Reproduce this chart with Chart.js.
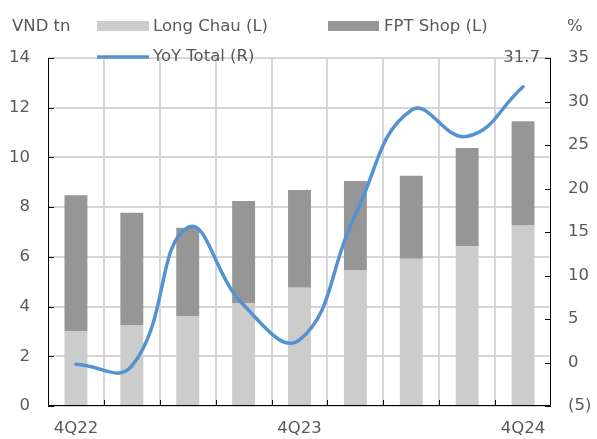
<!DOCTYPE html>
<html>
<head>
<meta charset="utf-8">
<script src="https://cdn.jsdelivr.net/npm/chart.js@4.4.1/dist/chart.umd.min.js"></script>
<style>
  html, body { margin: 0; padding: 0; background: #fff; }
  #wrap { width: 597px; height: 439px; position: relative; }
</style>
</head>
<body>
<div id="wrap"><canvas id="chart" width="597" height="439"></canvas></div>
<script>
const quarters = ['4Q22', '1Q23', '2Q23', '3Q23', '4Q23', '1Q24', '2Q24', '3Q24', '4Q24']
const shownQuarters = ['4Q22', '4Q23', '4Q24']
const longChau = [3.0, 3.26, 3.6, 4.14, 4.76, 5.47, 5.92, 6.43, 7.26]
const fptShop = [5.48, 4.51, 3.57, 4.11, 3.93, 3.58, 3.34, 3.95, 4.2]
const yoyTotal = [-0.2, -0.4, 15.5, 6.6, 2.6, 17.0, 29.0, 26.0, 31.7]
const lastLabel = '31.7'

const FONT = 'DejaVu Sans'
const TEXT = '#595959'
const LIGHT = '#cccccc'
const DARK = '#969696'
const BLUE = '#5592d2'
const GRID = '#d6d6d6'

Chart.defaults.font.family = FONT
Chart.defaults.font.size = 16.5
Chart.defaults.color = TEXT

// gridlines under the bars
const gridUnder = {
  id: 'gridUnder',
  beforeDatasetsDraw(chart) {
    const ctx = chart.ctx
    const { left, right, top, bottom } = chart.chartArea
    const y = chart.scales.y
    const step = (right - left) / quarters.length
    ctx.save()
    ctx.strokeStyle = GRID
    ctx.lineWidth = 2
    ctx.beginPath()
    y.ticks.forEach((t) => {
      const py = Math.round(y.getPixelForValue(t.value))
      ctx.moveTo(left, py)
      ctx.lineTo(right, py)
    })
    for (let i = 1; i < quarters.length; i++) {
      const px = Math.round(left + step * i)
      ctx.moveTo(px, top)
      ctx.lineTo(px, bottom)
    }
    ctx.stroke()
    ctx.restore()
  }
}

// axes with inside tick marks + legend + axis units, drawn on top
const overlay = {
  id: 'overlay',
  afterDraw(chart) {
    const ctx = chart.ctx
    const { left, right, top, bottom } = chart.chartArea
    const y = chart.scales.y
    const y1 = chart.scales.y1

    ctx.save()
    ctx.strokeStyle = '#000'
    ctx.lineWidth = 1
    ctx.beginPath()
    ctx.moveTo(left + 0.5, top)
    ctx.lineTo(left + 0.5, bottom - 0.5)
    ctx.lineTo(right - 0.5, bottom - 0.5)
    ctx.lineTo(right - 0.5, top)
    y.ticks.forEach((t) => {
      const py = Math.round(y.getPixelForValue(t.value)) + 0.5
      ctx.moveTo(left, py)
      ctx.lineTo(left + 6, py)
    })
    y1.ticks.forEach((t) => {
      const py = Math.round(y1.getPixelForValue(t.value)) + 0.5
      ctx.moveTo(right, py)
      ctx.lineTo(right - 6, py)
    })
    const step = (right - left) / quarters.length
    for (let i = 1; i < quarters.length; i++) {
      const px = Math.round(left + step * i) + 0.5
      ctx.moveTo(px, bottom)
      ctx.lineTo(px, bottom - 6)
    }
    ctx.stroke()

    ctx.font = '16.5px ' + FONT
    ctx.fillStyle = TEXT
    ctx.textBaseline = 'middle'
    ctx.textAlign = 'left'
    ctx.fillText('VND tn', 12, 27)
    ctx.fillText('%', 567, 27)

    ctx.fillStyle = LIGHT
    ctx.fillRect(97, 21, 52, 10)
    ctx.fillStyle = DARK
    ctx.fillRect(328, 21, 51, 10)
    ctx.strokeStyle = BLUE
    ctx.lineWidth = 3.5
    ctx.beginPath()
    ctx.moveTo(97, 57)
    ctx.lineTo(149, 57)
    ctx.stroke()

    ctx.fillStyle = TEXT
    ctx.fillText('Long Chau (L)', 153, 27)
    ctx.fillText('FPT Shop (L)', 384, 27)
    ctx.fillText('YoY Total (R)', 153, 57)

    ctx.textAlign = 'right'
    ctx.fillText(lastLabel, 540, top)
    ctx.restore()
  }
}

const ctx = document.getElementById('chart').getContext('2d')

new Chart(ctx, {
  data: {
    labels: quarters,
    datasets: [
      {
        type: 'line',
        label: 'YoY Total (R)',
        data: yoyTotal,
        yAxisID: 'y1',
        borderColor: BLUE,
        borderWidth: 3.5,
        borderCapStyle: 'round',
        pointRadius: 0,
        tension: 0.45,
        order: 0,
      },
      {
        type: 'bar',
        label: 'Long Chau (L)',
        data: longChau,
        yAxisID: 'y',
        backgroundColor: LIGHT,
        barPercentage: 0.41,
        categoryPercentage: 1,
        stack: 'rev',
        order: 1,
      },
      {
        type: 'bar',
        label: 'FPT Shop (L)',
        data: fptShop,
        yAxisID: 'y',
        backgroundColor: DARK,
        barPercentage: 0.41,
        categoryPercentage: 1,
        stack: 'rev',
        order: 2,
      },
    ],
  },
  options: {
    responsive: false,
    animation: false,
    layout: { padding: { top: 58, left: 0, right: 0, bottom: 0 } },
    plugins: {
      legend: { display: false },
      tooltip: { enabled: false },
    },
    scales: {
      x: {
        stacked: true,
        offset: true,
        grid: { display: false, drawTicks: false },
        border: { display: false },
        ticks: {
          autoSkip: false,
          maxRotation: 0,
          padding: 13,
          callback: function (value) {
            const lbl = this.getLabelForValue(value)
            return shownQuarters.includes(lbl) ? lbl : ''
          },
        },
        afterFit: (scale) => { scale.height = 33 },
      },
      y: {
        position: 'left',
        stacked: true,
        min: 0,
        max: 14,
        ticks: { stepSize: 2, padding: 18 },
        grid: { display: false, drawTicks: false },
        border: { display: false },
        afterFit: (scale) => { scale.width = 48 },
      },
      y1: {
        position: 'right',
        stacked: false,
        min: -5,
        max: 35,
        ticks: {
          stepSize: 5,
          padding: 17,
          callback: (v) => (v < 0 ? '(' + Math.abs(v) + ')' : v),
        },
        grid: { display: false, drawTicks: false },
        border: { display: false },
        afterFit: (scale) => { scale.width = 46 },
      },
    },
  },
  plugins: [gridUnder, overlay],
})
</script>
</body>
</html>
